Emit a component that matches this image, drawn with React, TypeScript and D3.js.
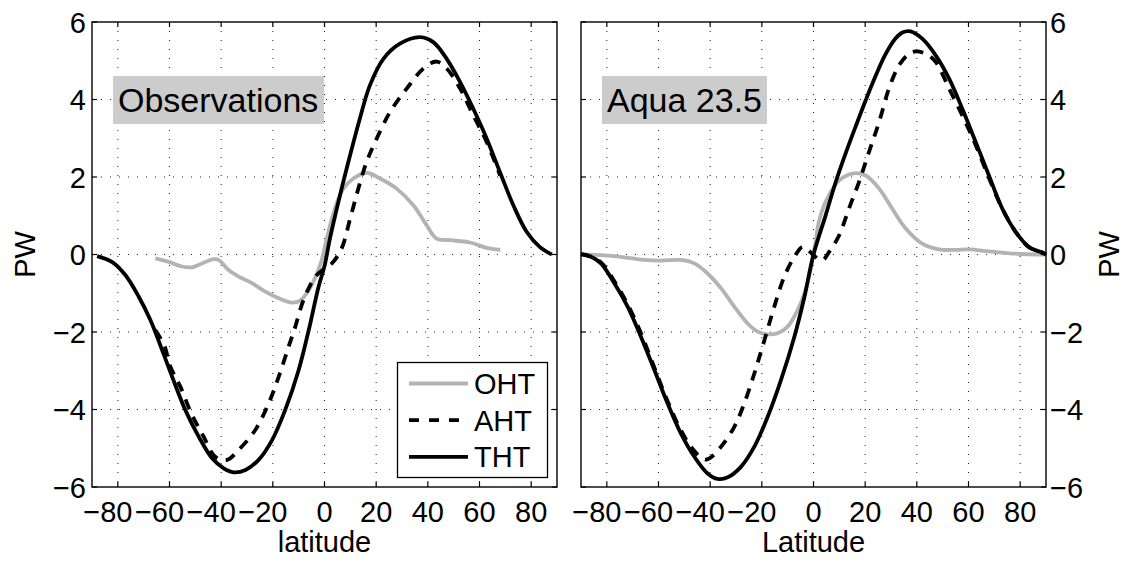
import React from "react";
import * as d3 from "d3";

// ---------- data ----------
const latTicks = [-80, -60, -40, -20, 0, 20, 40, 60, 80];
const pwTicks = [-6, -4, -2, 0, 2, 4, 6];
const legendLabels = ["OHT", "AHT", "THT"];
const panelTitles = ["Observations", "Aqua 23.5"];
const xLabels = ["latitude", "Latitude"];
const yLabel = "PW";

// Observations
const obsOhtLat = [-65.5, -60.3, -55.2, -51.3, -47.4, -42.9, -41, -37.1, -33.2, -28.1, -22.9, -17.7, -12.6, -9.4, -6.1, -2.9, -1, 1, 3.4, 5, 7.3, 11.2, 16.3, 21.5, 27.9, 34.4, 39.6, 43.4, 48.6, 56.3, 62.8, 68];
const obsOhtPw = [-0.1, -0.19, -0.31, -0.33, -0.23, -0.12, -0.14, -0.4, -0.57, -0.74, -0.96, -1.13, -1.24, -1.19, -0.92, -0.49, -0.12, 0.45, 1.05, 1.37, 1.7, 1.96, 2.11, 1.96, 1.7, 1.27, 0.75, 0.41, 0.37, 0.31, 0.17, 0.12];

const obsAhtLat = [-65.5, -62, -59.7, -55.8, -51.3, -46.8, -42.3, -37.7, -33.2, -26.8, -21.6, -17.7, -13.9, -11.3, -8.1, -3.5, 0.3, 3, 6.6, 9.9, 13.1, 16.3, 20.2, 25.4, 31.8, 38.3, 43.4, 47.3, 52.5, 57.6, 62.8, 68];
const obsAhtPw = [-1.95, -2.35, -2.89, -3.41, -4.14, -4.7, -5.22, -5.3, -5.04, -4.53, -3.84, -3.15, -2.38, -1.86, -1.17, -0.57, -0.35, -0.22, 0.15, 0.92, 1.7, 2.39, 2.99, 3.68, 4.28, 4.8, 4.98, 4.8, 4.28, 3.59, 2.9, 2.04];

const obsThtLat = [-88, -82.3, -77.1, -71.9, -67.4, -62.9, -59, -53.9, -48.7, -43.5, -39, -35.2, -30.6, -25.5, -20.3, -15.2, -10, -6.1, -2.3, 0, 2.1, 6, 9.9, 13.7, 17.6, 22.8, 29.2, 37, 42.1, 47.3, 52.5, 57.6, 62.8, 67.9, 73.1, 78.3, 83.4, 88];
const obsThtPw = [-0.04, -0.19, -0.53, -1.09, -1.69, -2.46, -3.15, -4.01, -4.7, -5.26, -5.52, -5.62, -5.56, -5.3, -4.79, -4.01, -2.98, -1.95, -0.83, -0.3, 0.41, 1.53, 2.56, 3.51, 4.37, 5.05, 5.44, 5.61, 5.48, 5.05, 4.45, 3.76, 2.99, 2.13, 1.27, 0.58, 0.19, 0.0];

// Aqua 23.5
const aquaOhtLat = [-90, -77.1, -66.8, -59, -51.3, -46.1, -41, -35.8, -30.6, -25.5, -21.6, -17.7, -13.9, -10, -6.1, -3.5, -1.5, 0.5, 2.1, 4, 6, 9.9, 15, 20.2, 25.4, 30.5, 35.7, 42.1, 48.6, 55, 60.2, 68, 78.3, 90];
const aquaOhtPw = [0.01, -0.04, -0.13, -0.16, -0.14, -0.23, -0.49, -0.87, -1.35, -1.78, -1.99, -2.06, -2.03, -1.86, -1.43, -1.0, -0.5, 0.2, 0.85, 1.25, 1.53, 1.91, 2.09, 2.04, 1.7, 1.18, 0.67, 0.28, 0.13, 0.12, 0.13, 0.08, 0.02, 0];

const aquaAhtLat = [-90, -86, -82, -77, -72, -67, -62, -57, -52, -47, -42.3, -40.3, -35.8, -30.6, -26.8, -22.9, -19, -15.2, -11.3, -7.4, -4.2, -1.5, 0.5, 3.4, 6, 9.9, 13.7, 17.6, 21.5, 25.4, 29.2, 33.1, 37, 39.6, 43.4, 47.3, 52.5, 57.6, 62.8, 68, 73.1, 78.3, 83.4, 88.6, 90];
const aquaAhtPw = [0.01, -0.06, -0.22, -0.7, -1.28, -2.0, -2.85, -3.7, -4.45, -5.0, -5.29, -5.26, -4.96, -4.44, -3.84, -3.07, -2.21, -1.35, -0.57, -0.06, 0.2, 0.08, -0.05, -0.15, 0.06, 0.49, 1.18, 1.87, 2.65, 3.42, 4.28, 4.88, 5.18, 5.24, 5.18, 4.97, 4.28, 3.59, 2.82, 1.96, 1.18, 0.58, 0.19, 0.05, 0];

const aquaThtLat = [-90, -86.1, -82.3, -77.1, -71.9, -66.8, -61.6, -56.5, -51.3, -46.1, -41, -37.1, -33.2, -28.1, -22.9, -17.7, -12.6, -7.4, -3.5, 0, 4.7, 8.6, 12.5, 16.3, 20.2, 24.1, 27.9, 31.8, 34.4, 37.6, 42.1, 47.3, 52.5, 57.6, 62.8, 67.9, 73.1, 78.3, 83.4, 88.6, 90];
const aquaThtPw = [0.01, -0.06, -0.23, -0.74, -1.35, -2.12, -2.98, -3.84, -4.62, -5.22, -5.65, -5.79, -5.75, -5.48, -4.96, -4.18, -3.24, -2.12, -1.09, 0, 1.01, 1.87, 2.62, 3.3, 3.98, 4.62, 5.17, 5.58, 5.73, 5.76, 5.57, 5.14, 4.54, 3.76, 2.9, 2.04, 1.18, 0.58, 0.19, 0.05, 0];

// ---------- styling / layout ----------
const FONT = "'Liberation Sans', Arial, Helvetica, sans-serif";
const W = 1127;
const H = 561;
const TOP = 22;
const BOTTOM = 487;
const PANEL_W = 465;
const GRAY = "#b3b3b3";
const DASH = "10.5,8.5";
const LW = 3.8;

type Kind = "oht" | "aht" | "tht";
const kindStyle: Record<Kind, { stroke: string; dash?: string }> = {
  oht: { stroke: GRAY },
  aht: { stroke: "#000", dash: DASH },
  tht: { stroke: "#000" },
};

function zip(lat: number[], pw: number[]): [number, number][] {
  return lat.map((l, i) => [l, pw[i]]);
}

const fmt = (v: number) => (v < 0 ? "\u2212" + Math.abs(v) : String(v));

type PanelProps = {
  left: number;
  series: { kind: Kind; pts: [number, number][] }[];
  title: string;
  titleW: number;
  xLabel: string;
  yRight: boolean;
  legend: boolean;
};

function Panel({ left, series, title, titleW, xLabel, yRight, legend }: PanelProps) {
  const x = d3.scaleLinear().domain([-90, 90]).range([left, left + PANEL_W]);
  const y = d3.scaleLinear().domain([-6, 6]).range([BOTTOM, TOP]);
  const line = d3
    .line<[number, number]>()
    .x((d) => x(d[0]))
    .y((d) => y(d[1]))
    .curve(d3.curveCatmullRom.alpha(0.5));
  const right = left + PANEL_W;
  const tl = 5;
  return (
    <g>
      {/* grid */}
      {latTicks.map((t) => (
        <line key={"gx" + t} x1={x(t)} x2={x(t)} y1={TOP} y2={BOTTOM} stroke="#222" strokeWidth={1} strokeDasharray="1,8" />
      ))}
      {pwTicks
        .filter((t) => t > -6 && t < 6)
        .map((t) => (
          <line key={"gy" + t} x1={left} x2={right} y1={y(t)} y2={y(t)} stroke="#222" strokeWidth={1} strokeDasharray="1,8" />
        ))}
      {/* title box */}
      <rect x={left + 21} y={76} width={titleW} height={48} fill="#cccccc" />
      <text x={left + 26} y={111.5} fontFamily={FONT} fontSize={34} fill="#000">
        {title}
      </text>
      {/* series */}
      {series.map((s, i) => (
        <path
          key={i}
          d={line(s.pts) || ""}
          fill="none"
          stroke={kindStyle[s.kind].stroke}
          strokeWidth={LW}
          strokeDasharray={kindStyle[s.kind].dash}
          strokeLinejoin="round"
        />
      ))}
      {/* ticks */}
      {latTicks.map((t) => (
        <g key={"tx" + t}>
          <line x1={x(t)} x2={x(t)} y1={BOTTOM} y2={BOTTOM - tl} stroke="#000" strokeWidth={1.2} />
          <line x1={x(t)} x2={x(t)} y1={TOP} y2={TOP + tl} stroke="#000" strokeWidth={1.2} />
          <text
            x={x(t)}
            dx={t < 0 ? -10 : 0}
            y={522}
            textAnchor="middle"
            fontFamily={FONT}
            fontSize={29}
          >
            {fmt(t)}
          </text>
        </g>
      ))}
      {pwTicks.map((t) => (
        <g key={"ty" + t}>
          <line x1={left} x2={left + tl} y1={y(t)} y2={y(t)} stroke="#000" strokeWidth={1.2} />
          <line x1={right} x2={right - tl} y1={y(t)} y2={y(t)} stroke="#000" strokeWidth={1.2} />
          <text
            x={yRight ? right + 4 : left - 6}
            y={y(t) + 10.5}
            textAnchor={yRight ? "start" : "end"}
            fontFamily={FONT}
            fontSize={29}
          >
            {fmt(t)}
          </text>
        </g>
      ))}
      {/* frame */}
      <rect x={left} y={TOP} width={PANEL_W} height={BOTTOM - TOP} fill="none" stroke="#000" strokeWidth={1.4} />
      {/* axis labels */}
      <text x={left + PANEL_W / 2} y={552} textAnchor="middle" fontFamily={FONT} fontSize={29}>
        {xLabel}
      </text>
      <text
        transform={`translate(${yRight ? right + 73 : left - 57},${(TOP + BOTTOM) / 2}) rotate(-90)`}
        textAnchor="middle"
        fontFamily={FONT}
        fontSize={29}
      >
        {yLabel}
      </text>
      {/* legend */}
      {legend && (
        <g>
          <rect x={397.5} y={362.5} width={150} height={115} fill="#fff" stroke="#000" strokeWidth={1.3} />
          {(["oht", "aht", "tht"] as Kind[]).map((k, i) => {
            const ry = 383.5 + i * 36.7;
            return (
              <g key={k}>
                <line x1={409} x2={468} y1={ry} y2={ry} stroke={kindStyle[k].stroke} strokeWidth={LW} strokeDasharray={k === "aht" ? "10,10" : undefined} />
                <text x={474} y={ry + 10.5} fontFamily={FONT} fontSize={29}>
                  {legendLabels[i]}
                </text>
              </g>
            );
          })}
        </g>
      )}
    </g>
  );
}

export default function App() {
  return (
    <div style={{ position: "absolute", left: 0, top: 0 }}>
      <svg width={W} height={H} style={{ display: "block", background: "#fff" }}>
        <rect x={0} y={0} width={W} height={H} fill="#fff" />
        <Panel
          left={92}
          title={panelTitles[0]}
          titleW={211}
          xLabel={xLabels[0]}
          yRight={false}
          legend={true}
          series={[
            { kind: "oht", pts: zip(obsOhtLat, obsOhtPw) },
            { kind: "aht", pts: zip(obsAhtLat, obsAhtPw) },
            { kind: "tht", pts: zip(obsThtLat, obsThtPw) },
          ]}
        />
        <Panel
          left={581}
          title={panelTitles[1]}
          titleW={165}
          xLabel={xLabels[1]}
          yRight={true}
          legend={false}
          series={[
            { kind: "oht", pts: zip(aquaOhtLat, aquaOhtPw) },
            { kind: "aht", pts: zip(aquaAhtLat, aquaAhtPw) },
            { kind: "tht", pts: zip(aquaThtLat, aquaThtPw) },
          ]}
        />
      </svg>
    </div>
  );
}
